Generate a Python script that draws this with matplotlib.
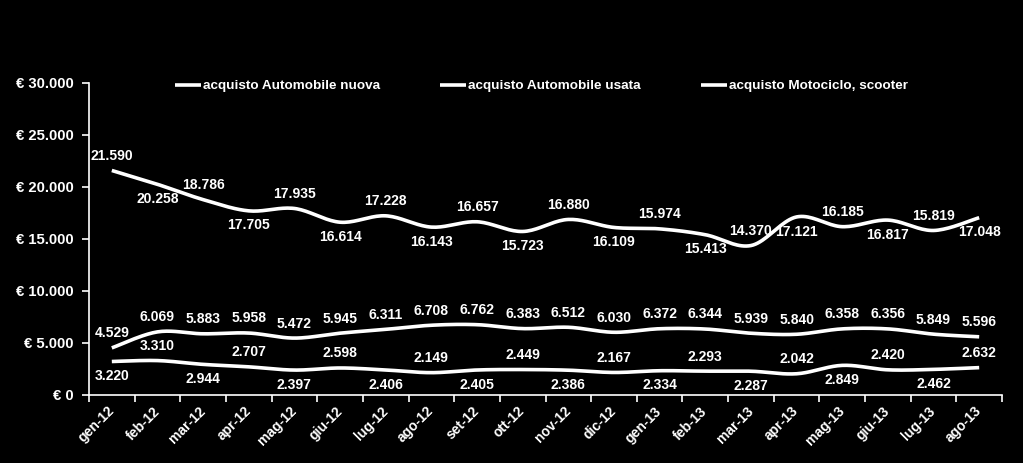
import numpy as np
import matplotlib
matplotlib.use("Agg")
import matplotlib.pyplot as plt
from matplotlib.ticker import FuncFormatter, FixedLocator

plt.rcParams['font.family'] = ['Liberation Sans', 'DejaVu Sans']
plt.rcParams['font.weight'] = 'bold'

months = ["gen-12", "feb-12", "mar-12", "apr-12", "mag-12", "giu-12", "lug-12", "ago-12",
          "set-12", "ott-12", "nov-12", "dic-12", "gen-13", "feb-13", "mar-13", "apr-13",
          "mag-13", "giu-13", "lug-13", "ago-13"]
auto_nuova = [21590, 20258, 18786, 17705, 17935, 16614, 17228, 16143, 16657, 15723,
              16880, 16109, 15974, 15413, 14370, 17121, 16185, 16817, 15819, 17048]
auto_usata = [4529, 6069, 5883, 5958, 5472, 5945, 6311, 6708, 6762, 6383,
              6512, 6030, 6372, 6344, 5939, 5840, 6358, 6356, 5849, 5596]
moto = [3220, 3310, 2944, 2707, 2397, 2598, 2406, 2149, 2405, 2449,
        2386, 2167, 2334, 2293, 2287, 2042, 2849, 2420, 2462, 2632]
series_names = ["acquisto Automobile nuova", "acquisto Automobile usata", "acquisto Motociclo, scooter"]


def smooth(x, y, n=20):
    # Catmull-Rom style Bezier smoothing (like Excel's smoothed line)
    x = np.asarray(x, float); y = np.asarray(y, float)
    px = np.concatenate([[x[0]], x, [x[-1]]])
    py = np.concatenate([[y[0]], y, [y[-1]]])
    xs, ys = [], []
    t = np.linspace(0, 1, n, endpoint=False)
    for i in range(1, len(px) - 2):
        p0 = np.array([px[i], py[i]]); p3 = np.array([px[i + 1], py[i + 1]])
        c1 = p0 + (np.array([px[i + 1], py[i + 1]]) - np.array([px[i - 1], py[i - 1]])) / 6
        c2 = p3 - (np.array([px[i + 2], py[i + 2]]) - np.array([px[i], py[i]])) / 6
        for tt in t:
            b = ((1 - tt) ** 3) * p0 + 3 * ((1 - tt) ** 2) * tt * c1 + 3 * (1 - tt) * tt ** 2 * c2 + tt ** 3 * p3
            xs.append(b[0]); ys.append(b[1])
    xs.append(x[-1]); ys.append(y[-1])
    return np.array(xs), np.array(ys)


fig = plt.figure(figsize=(10.23, 4.63), dpi=100, facecolor='black')
ax = fig.add_axes([89 / 1023, 1 - 395 / 463, (1002 - 89) / 1023, (395 - 83) / 463])
ax.set_facecolor('black')

x = np.arange(len(months))
fs = 10
handles = []
for vals, name, start_above in [(auto_nuova, series_names[0], True),
                                (auto_usata, series_names[1], None),
                                (moto, series_names[2], False)]:
    sx, sy = smooth(x, vals)
    h, = ax.plot(sx, sy, color='white', lw=2.6, solid_capstyle='butt')
    handles.append(h)
    for i, v in enumerate(vals):
        if start_above is None:
            above = True
        else:
            above = (i % 2 == 0) == start_above
        off = 10.5 if above else -10.5
        ax.annotate(f"{v:,}".replace(",", "."), (i, v), xytext=(0, off), textcoords='offset points',
                    ha='center', va='center', color='white', fontsize=fs, fontweight='bold')

ax.set_xlim(-0.5, len(months) - 0.5)
ax.set_ylim(0, 30000)
ax.set_yticks(np.arange(0, 30001, 5000))
ax.yaxis.set_major_formatter(FuncFormatter(lambda v, p: "€ " + f"{int(v):,}".replace(",", ".")))
ax.set_xticks(x)
ax.set_xticklabels(months, rotation=45, ha='right', va='center', rotation_mode='anchor')
ax.xaxis.set_minor_locator(FixedLocator(np.arange(-0.5, len(months), 1)))
ax.tick_params(axis='x', which='major', length=0, pad=10, colors='white', labelsize=fs)
ax.tick_params(axis='x', which='minor', length=5, width=1.2, color='white', direction='out')
ax.tick_params(axis='y', length=5, width=1.2, colors='white', labelsize=10.7, pad=6)
for lbl in ax.get_xticklabels() + ax.get_yticklabels():
    lbl.set_fontweight('bold')
for s in ['top', 'right']:
    ax.spines[s].set_visible(False)
for s in ['left', 'bottom']:
    ax.spines[s].set_color('white')
    ax.spines[s].set_linewidth(1.2)

leg = fig.legend(handles, series_names, loc='center left', bbox_to_anchor=(175 / 1023, 1 - 86 / 463),
                 ncol=3, frameon=False, fontsize=9.7, handlelength=1.9, handletextpad=0.15,
                 columnspacing=4.5, borderpad=0, borderaxespad=0)
for t in leg.get_texts():
    t.set_color('white'); t.set_fontweight('bold')

fig.savefig('out.png', dpi=100, facecolor='black')
